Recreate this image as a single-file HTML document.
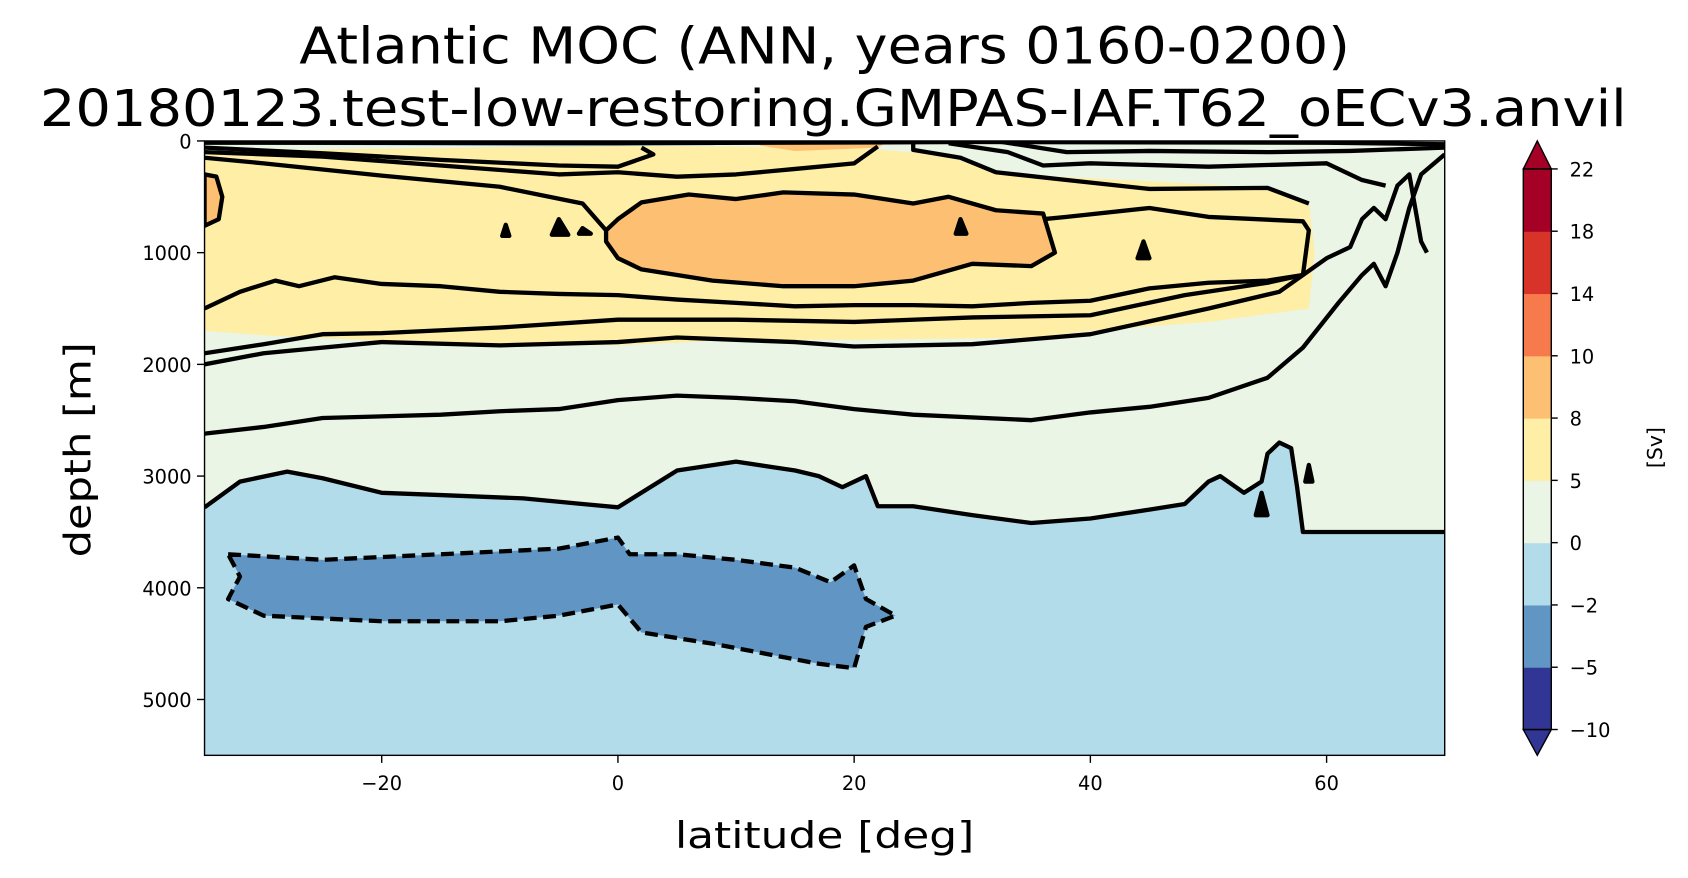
<!DOCTYPE html>
<html><head><meta charset="utf-8"><style>
html,body{margin:0;padding:0;background:#fff;overflow:hidden}
svg{display:block;font-family:"DejaVu Sans","Liberation Sans",sans-serif}
</style></head><body>
<svg id="chart" width="1688" height="878" viewBox="0 0 1568 816" preserveAspectRatio="none" xmlns="http://www.w3.org/2000/svg">
<text x="766" y="59" font-size="47" text-anchor="middle" textLength="976" lengthAdjust="spacingAndGlyphs">Atlantic MOC (ANN, years 0160-0200)</text>
<text x="774" y="117" font-size="47" text-anchor="middle" textLength="1474" lengthAdjust="spacingAndGlyphs">20180123.test-low-restoring.GMPAS-IAF.T62_oECv3.anvil</text>
<defs><clipPath id="pc"><rect x="190" y="131" width="1152" height="571"/></clipPath></defs>
<g id="plot" clip-path="url(#pc)"></g>
<g id="lines" clip-path="url(#pc)"></g>
<rect x="190" y="131" width="1152" height="571" fill="none" stroke="#000" stroke-width="1.3"/>
<g id="axes"></g>
<g id="cbar"></g>
<text x="766" y="788" font-size="34" text-anchor="middle" textLength="278" lengthAdjust="spacingAndGlyphs">latitude [deg]</text>
<text transform="translate(84,418) rotate(-90)" font-size="34" text-anchor="middle" textLength="200" lengthAdjust="spacingAndGlyphs">depth [m]</text>
<text transform="translate(1544,416) rotate(-90)" font-size="19" text-anchor="middle">[Sv]</text>
</svg>
<script>
const xTicks=[-20,0,20,40,60];
const yTicks=[0,1000,2000,3000,4000,5000];
const cbLevels=[-10,-5,-2,0,5,8,10,14,18,22];
const cbColors=["#313695","#6195c3","#b3dcea","#eaf5e6","#feeea6","#fdbf72","#f67a4b","#d73328","#a50026"];
const greenRegion=[[-35,0],[70,0],[70,3500],[58,3500],[57.5,3100],[57,2750],[56,2700],[55,2800],[54.5,3050],[53,3150],[51,3000],[50,3050],[48,3250],[45,3300],[40,3380],[35,3420],[30,3350],[25,3270],[22,3270],[21,3000],[19,3100],[17,3000],[15,2950],[10,2870],[5,2950],[0,3280],[-3,3250],[-8,3200],[-15,3170],[-20,3150],[-25,3020],[-28,2960],[-32,3050],[-35,3280]];
const yellowRegion=[[-35,90],[-20,70],[0,40],[20,60],[27,120],[33,300],[45,360],[55,420],[58.5,560],[59,1000],[58.5,1500],[50,1620],[40,1700],[35,1760],[20,1780],[10,1780],[0,1830],[-10,1820],[-20,1790],[-30,1740],[-35,1700]];
const orangeRegion=[[-1,800],[0,700],[2,550],[6,480],[10,520],[14,460],[20,480],[25,560],[28,500],[32,620],[36,650],[37,1000],[35,1120],[30,1100],[25,1250],[20,1300],[14,1300],[8,1250],[2,1150],[0,1050],[-1,900]];
const orangeLeft=[[-35,300],[-34,320],[-33.5,500],[-33.8,700],[-35,760]];
const orangeTop=[[12,0],[23,0],[22,60],[15,90],[12,40]];
const blueTop=[[-35,0],[10,0],[8,40],[-5,50],[-20,40],[-35,30]];
const darkBlueRegion=[[-33,3700],[-25,3750],[-15,3700],[-5,3650],[0,3550],[1,3700],[5,3700],[10,3750],[15,3820],[18,3950],[20,3800],[21,4100],[23.5,4250],[21,4350],[20,4720],[17,4680],[13,4600],[8,4500],[2,4400],[0,4150],[-5,4250],[-10,4300],[-20,4300],[-30,4250],[-33,4100],[-32,3900]];
const contourLines=[
[[-35,1500],[-32,1350],[-29,1250],[-27,1300],[-24,1220],[-20,1280],[-15,1300],[-10,1350],[-5,1370],[0,1380],[5,1420],[10,1450],[15,1480],[20,1470],[25,1470],[30,1480],[35,1450],[40,1430],[45,1320],[50,1270],[55,1250],[58,1200],[58.5,800],[58,720],[50,680],[45,600],[38,680],[36,700]],
[[-35,1900],[-30,1820],[-25,1730],[-20,1720],[-10,1670],[0,1600],[10,1600],[20,1620],[30,1580],[40,1560],[48,1380],[55,1270],[58,1200]],
[[-35,2000],[-30,1900],[-25,1850],[-20,1800],[-10,1830],[0,1800],[5,1760],[10,1780],[15,1800],[20,1840],[30,1820],[40,1730],[50,1500],[56,1350],[60,1050],[62,950],[63,700],[64,600],[65,700],[66,400],[67,300],[68,900],[68.5,1000]],
[[-35,2620],[-30,2560],[-25,2480],[-15,2450],[-10,2420],[-5,2400],[0,2320],[5,2280],[10,2300],[15,2330],[20,2400],[25,2450],[35,2500],[40,2430],[45,2380],[50,2300],[55,2120],[58,1850],[61,1450],[63,1200],[64,1100],[65,1300],[66,1000],[67,600],[68,300],[70,120]],
[[-35,3280],[-32,3050],[-28,2960],[-25,3020],[-20,3150],[-15,3170],[-8,3200],[-3,3250],[0,3280],[5,2950],[10,2870],[15,2950],[17,3000],[19,3100],[21,3000],[22,3270],[25,3270],[30,3350],[35,3420],[40,3380],[45,3300],[48,3250],[50,3050],[51,3000],[53,3150],[54.5,3050],[55,2800],[56,2700],[57,2750],[57.5,3100],[58,3500],[70,3500]],
[[-35,60],[-25,110],[-15,170],[-5,220],[0,230],[3,120],[2,60]],
[[-35,150],[-30,200],[-20,310],[-10,410],[-3,560],[-1,800]],
[[-35,100],[-25,140],[-15,220],[-5,300],[0,280],[5,320],[10,300],[15,250],[20,200],[22,50]],
[[25,0],[25,80],[29,150],[32,280],[38,350],[45,430],[55,420],[58.5,560]],
[[28,20],[33,100],[36,220],[40,200],[50,230],[60,200],[63,350],[65,400]],
[[32,0],[38,100],[45,90],[55,100],[62,90],[70,60]],
[[-35,15],[0,20],[30,10],[60,15],[70,30]]
];
const closedBlobs=[[[-9.5,750],[-9.2,850],[-9.8,850]],[[-5,700],[-4.2,840],[-5.6,840]],[[-3,780],[-2.3,830],[-3.3,830]],[[29,700],[29.5,830],[28.6,830]],[[44.5,900],[45,1050],[44,1050]],[[54.5,3150],[55,3350],[54,3350]],[[58.5,2900],[58.8,3050],[58.2,3050]]];
const NS="http://www.w3.org/2000/svg";
const X0=190,X1=1342,Y0=131,Y1=702;
const xs=v=>X0+(v+35)/105*(X1-X0);
const ys=d=>Y0+d/5500*(Y1-Y0);
function pts(a){return a.map(p=>xs(p[0]).toFixed(1)+","+ys(p[1]).toFixed(1)).join(" ");}
const plot=document.getElementById('plot');
function poly(parent,a,fill,stroke,dash,name){
 const e=document.createElementNS(NS,'polygon');
 e.setAttribute('points',pts(a));e.setAttribute('fill',fill);
 if(stroke){e.setAttribute('stroke',stroke);e.setAttribute('stroke-width','4');e.setAttribute('stroke-linejoin','round');}
 if(dash)e.setAttribute('stroke-dasharray',dash);
 
 
 parent.appendChild(e);return e;}
const bg=document.createElementNS(NS,'rect');
bg.setAttribute('x',X0);bg.setAttribute('y',Y0);bg.setAttribute('width',X1-X0);bg.setAttribute('height',Y1-Y0);bg.setAttribute('fill',cbColors[2]);


plot.appendChild(bg);
poly(plot,greenRegion,cbColors[3],null,null,'fill-0-5');
poly(plot,yellowRegion,cbColors[4],null,null,'fill-5-8');
poly(plot,orangeRegion,cbColors[5],'#000',null,'fill-8-10');
poly(plot,orangeLeft,cbColors[5],'#000',null,'fill-8-10-left');
poly(plot,orangeTop,cbColors[5],null,null,'fill-8-10-top');
poly(plot,blueTop,cbColors[2],null,null,'fill-surface-negative');
poly(plot,darkBlueRegion,cbColors[1],'#000','12,6','fill-minus2-minus5');
const lg=document.getElementById('lines');
contourLines.forEach(l=>{const e=document.createElementNS(NS,'polyline');
 e.setAttribute('points',pts(l));e.setAttribute('fill','none');e.setAttribute('stroke','#000');e.setAttribute('stroke-width','4');e.setAttribute('stroke-linejoin','round');
 
 
 lg.appendChild(e);});
closedBlobs.forEach(b=>{poly(lg,b,'#000','#000',null,'contour-blob');});
const ax=document.getElementById('axes');
function txt(p,x,y,s,anchor,size){const t=document.createElementNS(NS,'text');t.setAttribute('x',x);t.setAttribute('y',y);t.setAttribute('text-anchor',anchor);t.setAttribute('font-size',size);t.textContent=s;p.appendChild(t);return t;}
function ln(p,x1,y1,x2,y2){const l=document.createElementNS(NS,'line');l.setAttribute('x1',x1);l.setAttribute('y1',y1);l.setAttribute('x2',x2);l.setAttribute('y2',y2);l.setAttribute('stroke','#000');l.setAttribute('stroke-width','1.3');p.appendChild(l);return l;}
xTicks.forEach(v=>{const l=ln(ax,xs(v),Y1,xs(v),Y1+7);
 
 
 const t=txt(ax,xs(v),Y1+32,(v<0?"\u2212":"")+Math.abs(v),'middle',18);
 
 });
yTicks.forEach(v=>{const l=ln(ax,X0-7,ys(v),X0,ys(v));
 
 
 const t=txt(ax,X0-12,ys(v)+7,String(v),'end',18);
 
 });
const cb=document.getElementById('cbar');
const CX0=1415,CX1=1441,CT=157,CB=678;
const cy=i=>CB-i*(CB-CT)/(cbLevels.length-1);
for(let i=0;i<cbColors.length;i++){const r=document.createElementNS(NS,'rect');
 r.setAttribute('x',CX0);r.setAttribute('y',cy(i+1));r.setAttribute('width',CX1-CX0);r.setAttribute('height',cy(i)-cy(i+1)+0.5);r.setAttribute('fill',cbColors[i]);
 
 
 cb.appendChild(r);}
const tt=document.createElementNS(NS,'polygon');tt.setAttribute('points',`${CX0},${CT} ${(CX0+CX1)/2},131 ${CX1},${CT}`);tt.setAttribute('fill',cbColors[8]);tt.setAttribute('stroke','#000');tt.setAttribute('stroke-width','1.3');


cb.appendChild(tt);
const tb=document.createElementNS(NS,'polygon');tb.setAttribute('points',`${CX0},${CB} ${(CX0+CX1)/2},702 ${CX1},${CB}`);tb.setAttribute('fill',cbColors[0]);tb.setAttribute('stroke','#000');tb.setAttribute('stroke-width','1.3');


cb.appendChild(tb);
const frame=document.createElementNS(NS,'rect');frame.setAttribute('x',CX0);frame.setAttribute('y',CT);frame.setAttribute('width',CX1-CX0);frame.setAttribute('height',CB-CT);frame.setAttribute('fill','none');frame.setAttribute('stroke','#000');frame.setAttribute('stroke-width','1.3');


cb.appendChild(frame);
cbLevels.forEach((v,i)=>{const l=ln(cb,CX1,cy(i),CX1+6,cy(i));
 
 
 const t=txt(cb,CX1+17,cy(i)+7,(v<0?"\u2212":"")+Math.abs(v),'start',18);
 
 });
</script>
</body></html>
